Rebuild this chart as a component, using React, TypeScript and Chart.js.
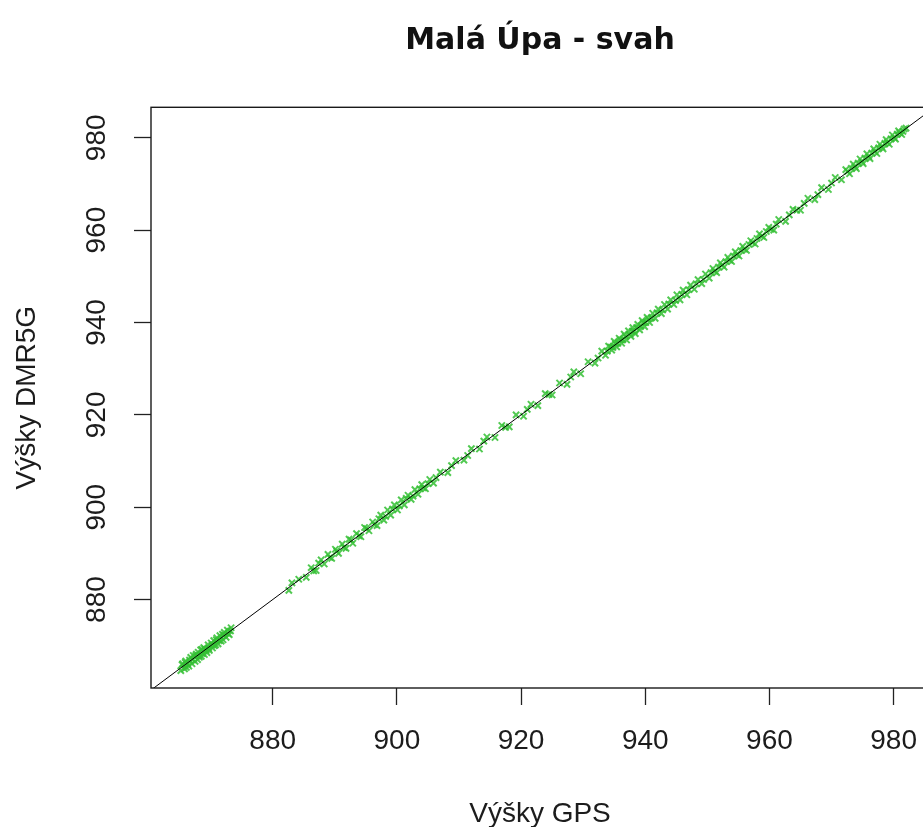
import { useEffect, useRef } from "react";
import { Chart, registerables } from "chart.js";

Chart.register(...registerables);

const TITLE = "Malá Úpa - svah";
const X_LABEL = "Výšky GPS";
const Y_LABEL = "Výšky DMR5G";
const X_TICKS = [880, 900, 920, 940, 960, 980];
const Y_TICKS = [880, 900, 920, 940, 960, 980];
const X_RANGE = [860.4, 985.7];
const Y_RANGE = [860.85, 986.6];
const REF_LINE = [850, 1000]; // y = x

const gpsHeights = [
  865.2, 865.5, 865.8, 866.0, 866.1, 866.3, 866.5, 866.8, 867.0, 867.2,
  867.5, 867.7, 867.9, 868.0, 868.2, 868.4, 868.5, 868.7, 868.9, 869.0,
  869.1, 869.4, 869.6, 869.8, 870.1, 870.3, 870.5, 870.6, 870.8, 871.0,
  871.2, 871.5, 871.7, 871.9, 872.0, 872.2, 872.5, 872.7, 873.0, 873.3,
  882.6, 883.1, 885.4, 886.2, 887.0, 887.8, 888.3, 888.9, 889.5, 890.1,
  890.6, 891.2, 891.8, 892.3, 892.9, 893.5, 894.2, 894.8, 895.5, 896.1,
  896.8, 897.4, 897.9, 898.5, 899.0, 899.6, 900.1, 900.7, 901.2, 901.8,
  902.3, 902.9, 903.4, 904.0, 904.6, 905.3, 905.9,
  907.0, 908.2, 909.5, 910.8, 912.0, 913.3, 914.5, 915.8, 916.9, 918.1,
  919.2, 920.4, 921.6, 922.7, 923.9, 925.0, 926.2, 927.4, 928.5, 929.6,
  930.8, 931.9, 933.0,
  933.6, 934.1, 934.6, 935.0, 935.4, 935.8, 936.2, 936.6, 937.0, 937.3,
  937.7, 938.0, 938.4, 938.8, 939.1, 939.5, 939.9, 940.3, 940.7, 941.2,
  941.6, 942.1, 942.6, 943.1, 943.6, 944.1, 944.6, 945.1, 945.6, 946.1,
  946.7, 947.3, 947.9, 948.5, 949.1, 949.7, 950.3, 950.9, 951.5, 952.1,
  952.7, 953.3, 953.9, 954.5, 955.1, 955.7, 956.3, 957.0, 957.7, 958.4,
  959.1, 959.9, 960.7, 961.5,
  962.6, 963.8, 965.0, 966.2, 967.3, 968.4, 969.5, 970.6, 971.6,
  972.3, 972.9, 973.5, 974.0, 974.6, 975.1, 975.7, 976.2, 976.8, 977.3,
  977.8, 978.3, 978.8, 979.3, 979.8, 980.3, 980.8, 981.3, 981.7,
  // second pass of readings
  865.4, 865.9, 866.6, 867.1, 867.6, 868.1, 868.6, 869.3, 869.7, 870.2,
  870.9, 871.4, 872.1, 872.8, 873.2,
  886.6, 887.4, 889.2, 890.3, 891.5, 892.6, 893.9, 895.1, 896.4, 897.1,
  898.2, 899.3, 900.4, 901.5, 902.6, 903.7, 904.3, 905.0, 906.3, 884.2,
  908.8, 911.4, 914.0, 917.5, 921.0, 924.5, 928.0, 932.4,
  933.9, 934.4, 934.8, 935.2, 935.6, 936.0, 936.4, 936.8, 937.5, 937.9,
  938.2, 938.6, 939.3, 939.7, 940.1, 940.5, 941.0, 941.9, 942.8, 943.8,
  944.9, 945.9,
  947.0, 948.2, 949.4, 950.6, 951.2, 951.8, 952.4, 953.0, 953.6, 954.2,
  954.8, 955.4, 956.0, 956.7, 957.3, 958.0, 958.8, 959.5, 960.3, 961.1,
  963.2, 964.4, 965.6, 967.8, 970.0,
  972.6, 973.2, 973.8, 974.3, 974.9, 975.4, 976.0, 976.5, 977.0, 977.6,
  978.1, 978.6, 979.0, 979.6, 980.1, 980.6, 981.0, 981.5, 982.0,
];

const dmrHeights = [
  864.6, 866.1, 865.0, 866.7, 865.3, 866.0, 865.6, 867.5, 866.1, 867.9,
  866.6, 868.2, 867.0, 868.6, 867.5, 869.1, 867.7, 868.3, 869.6, 868.1,
  869.3, 868.5, 870.2, 869.0, 870.6, 869.5, 871.1, 870.0, 870.2, 871.7,
  870.4, 872.2, 871.0, 872.5, 871.3, 872.9, 871.8, 873.4, 872.4, 873.9,
  882.0, 883.6, 884.8, 886.9, 886.3, 888.6, 887.7, 889.8, 888.9, 890.9,
  890.0, 892.0, 891.1, 893.1, 892.2, 894.3, 893.6, 895.6, 894.9, 896.8,
  896.0, 898.3, 897.2, 899.4, 898.3, 900.5, 899.4, 901.6, 900.5, 902.6,
  901.7, 903.8, 902.8, 904.9, 904.0, 906.0, 905.2,
  907.6, 907.5, 910.1, 910.2, 912.7, 912.6, 915.2, 915.1, 917.7, 917.4,
  920.0, 919.7, 922.3, 922.0, 924.6, 924.3, 926.9, 926.6, 929.3, 928.9,
  931.5, 931.2, 933.8,
  932.9, 934.9, 934.0, 935.9, 934.7, 936.6, 935.5, 937.5, 936.2, 938.2,
  937.0, 938.9, 937.6, 939.6, 938.4, 940.4, 939.1, 941.1, 940.0, 942.0,
  940.9, 942.9, 941.9, 943.9, 942.9, 944.9, 943.9, 946.0, 944.9, 947.0,
  946.0, 948.1, 947.2, 949.3, 948.4, 950.5, 949.6, 951.7, 950.8, 952.9,
  952.0, 954.1, 953.2, 955.3, 954.4, 956.5, 955.6, 957.7, 957.0, 959.2,
  958.4, 960.6, 960.0, 962.3,
  961.9, 964.5, 964.3, 966.9, 966.6, 969.2, 968.8, 971.4, 970.9,
  973.1, 972.2, 974.3, 973.3, 975.4, 974.4, 976.5, 975.5, 977.6, 976.6,
  978.6, 977.6, 979.6, 978.6, 980.6, 979.7, 981.5, 980.7, 981.9,
  // second pass of readings
  865.9, 866.4, 866.9, 867.0, 867.9, 867.8, 869.2, 869.0, 869.4, 870.1,
  871.3, 871.1, 872.3, 872.6, 873.2,
  886.2, 887.9, 889.1, 890.5, 891.3, 892.9, 893.8, 895.4, 896.2, 897.5,
  898.0, 899.6, 900.3, 901.9, 902.4, 904.0, 904.2, 905.1, 906.4, 884.4,
  909.0, 911.2, 914.3, 917.3, 921.2, 924.4, 928.2, 932.3,
  933.8, 934.7, 934.6, 935.4, 935.5, 936.2, 936.3, 937.0, 937.4, 938.1,
  938.1, 938.9, 939.2, 939.9, 940.0, 940.7, 941.0, 942.1, 942.7, 944.0,
  944.8, 946.1,
  947.1, 948.4, 949.3, 950.8, 951.1, 952.0, 952.4, 953.2, 953.5, 954.4,
  954.7, 955.6, 955.9, 956.9, 957.3, 958.2, 958.7, 959.7, 960.2, 961.3,
  963.3, 964.3, 965.8, 967.7, 970.2,
  972.7, 973.4, 973.7, 974.5, 974.8, 975.6, 975.9, 976.7, 977.0, 977.8,
  978.0, 978.8, 979.0, 979.8, 980.0, 980.8, 981.1, 981.4, 982.1,
];

const FONT = '"Liberation Sans", Arial, Helvetica, sans-serif';
const TITLE_FONT = '"DejaVu Sans", "Liberation Sans", Arial, sans-serif';
const TEXT = "#1c1c1c";
const POINT_COLOR = "rgba(52, 192, 52, 0.85)";

const framePlugin = {
  id: "frameBox",
  afterDatasetsDraw(chart: any) {
    const { ctx, chartArea } = chart;
    const { left, top, right, bottom } = chartArea;
    ctx.save();
    ctx.strokeStyle = "#1a1a1a";
    ctx.lineWidth = 1.4;
    ctx.strokeRect(left, top, right - left, bottom - top);
    ctx.restore();
  },
};

export default function App() {
  const ref = useRef<HTMLCanvasElement | null>(null);

  useEffect(() => {
    if (!ref.current) return;
    Chart.defaults.font.family = FONT;
    const points = gpsHeights.map((x, i) => ({ x, y: dmrHeights[i] }));
    const chart = new Chart(ref.current, {
      type: "scatter",
      data: {
        datasets: [
          {
            type: "line",
            data: REF_LINE.map((v) => ({ x: v, y: v })),
            borderColor: "#000000",
            borderWidth: 1,
            pointRadius: 0,
            showLine: true,
            fill: false,
            clip: 0,
          } as any,
          {
            data: points,
            pointStyle: "crossRot",
            pointRadius: 4.4,
            borderWidth: 2,
            borderColor: POINT_COLOR,
            backgroundColor: POINT_COLOR,
          },
        ],
      },
      options: {
        animation: false,
        responsive: false,
        devicePixelRatio: 1,
        layout: { padding: { left: 0, right: 11, top: 0, bottom: 0 } },
        plugins: {
          legend: { display: false },
          tooltip: { enabled: false },
          title: {
            display: true,
            text: TITLE,
            fullSize: false,
            color: "#111111",
            font: { family: TITLE_FONT, size: 30, weight: "bold", lineHeight: 1.2 },
            padding: { top: 23, bottom: 48.3 },
          },
        },
        scales: {
          x: {
            type: "linear",
            position: "bottom",
            min: X_RANGE[0],
            max: X_RANGE[1],
            afterBuildTicks: (s: any) => {
              s.ticks = X_TICKS.map((v) => ({ value: v }));
            },
            afterFit: (s: any) => {
              s.height = 152;
            },
            border: { display: false },
            grid: {
              drawOnChartArea: false,
              drawTicks: true,
              tickLength: 17,
              tickColor: "#222222",
              tickWidth: 1.3,
            },
            ticks: {
              color: TEXT,
              font: { family: FONT, size: 28 },
              padding: 19,
              minRotation: 0,
              maxRotation: 0,
              autoSkip: false,
              callback: (v: any) => String(v),
            },
            title: {
              display: true,
              text: X_LABEL,
              color: TEXT,
              font: { family: FONT, size: 28, lineHeight: 1.2 },
              padding: { top: 0, bottom: 9 },
            },
          },
          y: {
            type: "linear",
            position: "left",
            min: Y_RANGE[0],
            max: Y_RANGE[1],
            afterBuildTicks: (s: any) => {
              s.ticks = Y_TICKS.map((v) => ({ value: v }));
            },
            afterFit: (s: any) => {
              s.width = 151;
            },
            border: { display: false },
            grid: {
              drawOnChartArea: false,
              drawTicks: true,
              tickLength: 17,
              tickColor: "#222222",
              tickWidth: 1.3,
            },
            ticks: {
              color: TEXT,
              font: { family: FONT, size: 28 },
              padding: 13,
              minRotation: 90,
              maxRotation: 90,
              crossAlign: "center",
              autoSkip: false,
              callback: (v: any) => String(v),
            },
            title: {
              display: true,
              text: Y_LABEL,
              color: TEXT,
              font: { family: FONT, size: 28, lineHeight: 1.2 },
              padding: { top: 10, bottom: 0 },
            },
          },
        },
      },
      plugins: [framePlugin],
    });
    return () => chart.destroy();
  }, []);

  return (
    <div
      style={{
        position: "fixed",
        left: 0,
        top: 0,
        width: 923,
        height: 827,
        overflow: "hidden",
        background: "#ffffff",
      }}
    >
      <canvas ref={ref} width={940} height={840} style={{ width: 940, height: 840, display: "block" }} />
    </div>
  );
}
